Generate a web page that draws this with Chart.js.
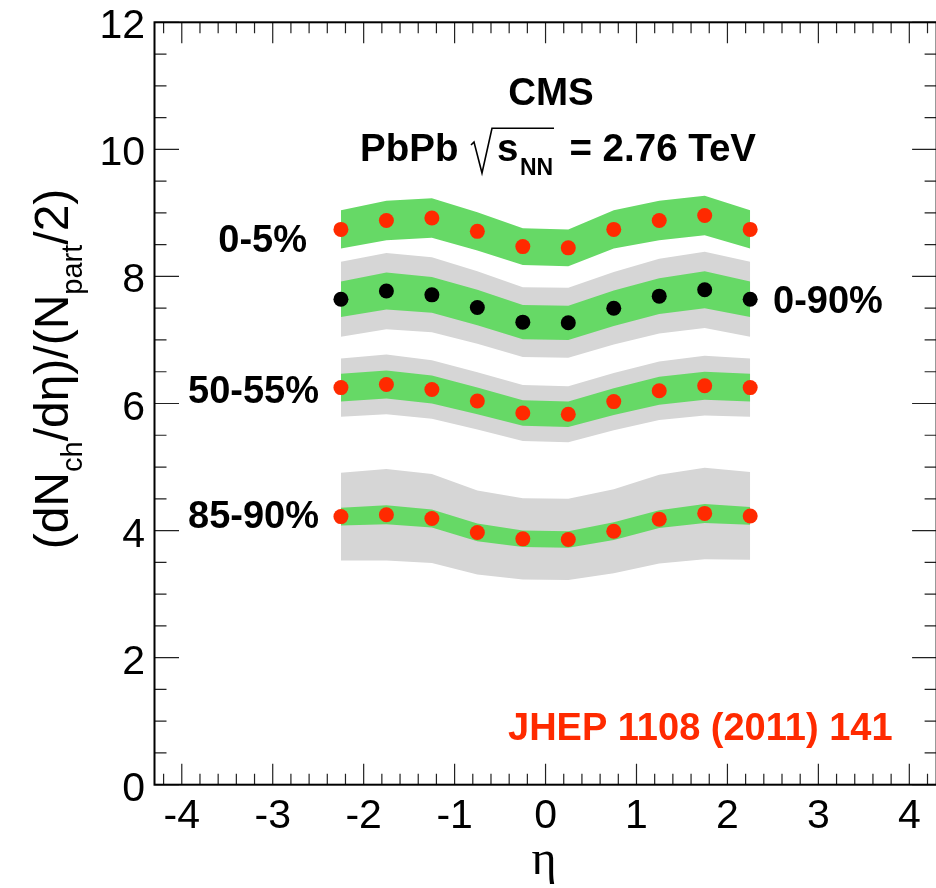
<!DOCTYPE html>
<html>
<head>
<meta charset="utf-8">
<script src="https://cdn.jsdelivr.net/npm/chart.js@4.4.0/dist/chart.umd.min.js"></script>
<style>
  html, body { margin: 0; padding: 0; background: #fff; overflow: hidden; }
  #wrap { width: 936px; height: 888px; overflow: hidden; }
</style>
</head>
<body>
<div id="wrap"><canvas id="dndeta" width="940" height="888"></canvas></div>
<script>
// pseudorapidity bins
const eta = [-2.25, -1.75, -1.25, -0.75, -0.25, 0.25, 0.75, 1.25, 1.75, 2.25];

// (dNch/deta)/(Npart/2) per centrality class
const cent0to5 = [8.74, 8.88, 8.92, 8.71, 8.47, 8.45, 8.74, 8.88, 8.96, 8.74];
const cent0to90 = [7.64, 7.77, 7.71, 7.51, 7.28, 7.27, 7.50, 7.69, 7.79, 7.64];
const cent50to55 = [6.25, 6.30, 6.22, 6.04, 5.85, 5.83, 6.03, 6.20, 6.28, 6.25];
const cent85to90 = [4.22, 4.25, 4.19, 3.97, 3.87, 3.86, 3.99, 4.18, 4.27, 4.23];

// systematic uncertainties (green) and incl. Npart uncertainty (grey)
const sys0to5 = [0.30, 0.31, 0.31, 0.30, 0.29, 0.29, 0.30, 0.31, 0.31, 0.30];
const sys0to90 = [0.28, 0.29, 0.28, 0.28, 0.27, 0.27, 0.28, 0.28, 0.29, 0.28];
const npart0to90 = [0.59, 0.60, 0.59, 0.57, 0.55, 0.55, 0.57, 0.59, 0.60, 0.59];
const sys50to55 = [0.22, 0.22, 0.22, 0.21, 0.20, 0.20, 0.21, 0.22, 0.22, 0.22];
const npart50to55 = [0.46, 0.47, 0.46, 0.45, 0.44, 0.44, 0.45, 0.46, 0.47, 0.46];
const sys85to90 = [0.14, 0.15, 0.14, 0.14, 0.13, 0.13, 0.14, 0.14, 0.15, 0.14];
const npart85to90 = [0.69, 0.72, 0.70, 0.66, 0.64, 0.64, 0.66, 0.70, 0.72, 0.69];

// axis ticks
const xTicks = [-4, -3, -2, -1, 0, 1, 2, 3, 4];
const yTicks = [0, 2, 4, 6, 8, 10, 12];

const GREEN = "#66d966";
const GREY = "#d6d6d6";
const RED = "#ff2a00";
const FONT = "'Liberation Sans', Arial, Helvetica, sans-serif";

const datasets = [];

const addBand = (vals, errs, color, order) => {
  const lowIdx = datasets.length;
  datasets.push({
    data: eta.map((x, i) => ({ x: x, y: vals[i] - errs[i] })),
    borderColor: "rgba(0,0,0,0)",
    borderWidth: 0,
    pointRadius: 0,
    fill: false,
    order: order,
  });
  datasets.push({
    data: eta.map((x, i) => ({ x: x, y: vals[i] + errs[i] })),
    borderColor: "rgba(0,0,0,0)",
    borderWidth: 0,
    pointRadius: 0,
    backgroundColor: color,
    fill: { target: lowIdx },
    order: order,
  });
};

const addPoints = (vals, color) => {
  datasets.push({
    data: eta.map((x, i) => ({ x: x, y: vals[i] })),
    showLine: false,
    pointRadius: 7.5,
    pointBackgroundColor: color,
    pointBorderColor: color,
    pointBorderWidth: 0,
    order: 1,
  });
};

addBand(cent0to90, npart0to90, GREY, 3);
addBand(cent50to55, npart50to55, GREY, 3);
addBand(cent85to90, npart85to90, GREY, 3);
addBand(cent0to5, sys0to5, GREEN, 2);
addBand(cent0to90, sys0to90, GREEN, 2);
addBand(cent50to55, sys50to55, GREEN, 2);
addBand(cent85to90, sys85to90, GREEN, 2);
addPoints(cent0to5, RED);
addPoints(cent0to90, "#000");
addPoints(cent50to55, RED);
addPoints(cent85to90, RED);

// ROOT-like frame with inward ticks
const frame = {
  id: "frame",
  afterDatasetsDraw(chart) {
    const { ctx, chartArea: a, scales } = chart;
    const x = scales.x, y = scales.y;
    ctx.save();
    ctx.strokeStyle = "#222";
    ctx.lineWidth = 1.2;
    ctx.beginPath();
    for (let i = -21; i <= 21; i++) {
      const px = x.getPixelForValue(i * 0.2);
      const len = i % 5 === 0 ? 21 : 11;
      ctx.moveTo(px, a.bottom);
      ctx.lineTo(px, a.bottom - len);
      ctx.moveTo(px, a.top);
      ctx.lineTo(px, a.top + len);
    }
    for (let i = 0; i <= 24; i++) {
      const py = y.getPixelForValue(i * 0.5);
      const len = i % 4 === 0 ? 24.5 : 12;
      ctx.moveTo(a.left, py);
      ctx.lineTo(a.left + len, py);
      ctx.moveTo(a.right, py);
      ctx.lineTo(a.right - len, py);
    }
    ctx.stroke();
    ctx.strokeStyle = "#000";
    ctx.lineWidth = 2;
    ctx.strokeRect(a.left, a.top, a.right - a.left, a.bottom - a.top);

    // tick labels
    ctx.fillStyle = "#000";
    ctx.font = "41px " + FONT;
    ctx.textAlign = "center";
    ctx.textBaseline = "alphabetic";
    xTicks.forEach((v) => ctx.fillText(String(v), x.getPixelForValue(v), 828));
    ctx.textAlign = "right";
    yTicks.forEach((v) => ctx.fillText(String(v), 145, y.getPixelForValue(v) + 16));
    ctx.restore();
  },
  afterDraw(chart) {
    const ctx = chart.ctx;
    ctx.save();
    ctx.fillStyle = "#000";
    ctx.textBaseline = "alphabetic";

    // x axis title
    ctx.font = "48px 'Liberation Serif', 'DejaVu Serif', serif";
    ctx.textAlign = "center";
    ctx.fillText("\u03b7", 544, 874);

    // y axis title, rotated
    ctx.save();
    ctx.translate(68, 0);
    ctx.rotate(-Math.PI / 2);
    const big = "48px " + FONT;
    const small = "29px " + FONT;
    const parts = [
      ["(dN", big, 0],
      ["ch", small, 14],
      ["/d\u03b7", big, 0],
      [")/(N", big, 0],
      ["part", small, 14],
      ["/2)", big, 0],
    ];
    let total = 0;
    parts.forEach((p) => { ctx.font = p[1]; total += ctx.measureText(p[0]).width; });
    let pos = -369 - total / 2;
    ctx.textAlign = "left";
    parts.forEach((p) => {
      ctx.font = p[1];
      ctx.fillText(p[0], pos, p[2]);
      pos += ctx.measureText(p[0]).width;
    });
    ctx.restore();

    // header
    ctx.font = "bold 38.5px " + FONT;
    ctx.textAlign = "center";
    ctx.fillText("CMS", 551, 105);

    const base = 160.7;
    ctx.textAlign = "left";
    ctx.fillText("PbPb", 360, base);
    // radical sign
    ctx.lineWidth = 1.6;
    ctx.strokeStyle = "#000";
    ctx.beginPath();
    ctx.moveTo(471, 145);
    ctx.lineTo(474, 142);
    ctx.lineTo(482, 173);
    ctx.lineTo(492, 128.3);
    ctx.lineTo(554, 128.3);
    ctx.stroke();
    ctx.fillText("s", 497, base);
    ctx.font = "bold 23px " + FONT;
    ctx.fillText("NN", 520, 175);
    ctx.font = "bold 38.5px " + FONT;
    ctx.textAlign = "right";
    ctx.fillText("= 2.76 TeV", 756, base);

    // centrality labels
    ctx.font = "bold 38px " + FONT;
    ctx.textAlign = "right";
    ctx.fillText("0-5%", 307, 251.7);
    ctx.fillText("50-55%", 319, 402.7);
    ctx.fillText("85-90%", 319, 528.3);
    ctx.textAlign = "left";
    ctx.fillText("0-90%", 773, 313.3);

    // reference
    ctx.fillStyle = RED;
    ctx.font = "bold 38px " + FONT;
    ctx.fillText("JHEP 1108 (2011) 141", 508, 740);
    ctx.restore();
  },
};

new Chart(document.getElementById("dndeta"), {
  type: "line",
  data: { datasets: datasets },
  options: {
    responsive: false,
    animation: false,
    devicePixelRatio: 1,
    layout: { autoPadding: false, padding: { top: 22.3, right: 3.4, left: 0, bottom: 0 } },
    plugins: { legend: { display: false }, tooltip: { enabled: false } },
    elements: { line: { tension: 0 } },
    scales: {
      x: {
        type: "linear",
        min: -4.3,
        max: 4.3,
        grid: { display: false },
        border: { display: false },
        ticks: { display: false },
        afterFit: (s) => { s.height = 103.3; s.paddingLeft = 0; s.paddingRight = 0; },
      },
      y: {
        type: "linear",
        min: 0,
        max: 12,
        grid: { display: false },
        border: { display: false },
        ticks: { display: false },
        afterFit: (s) => { s.width = 154.5; s.paddingTop = 0; s.paddingBottom = 0; },
      },
    },
  },
  plugins: [frame],
});
</script>
</body>
</html>
